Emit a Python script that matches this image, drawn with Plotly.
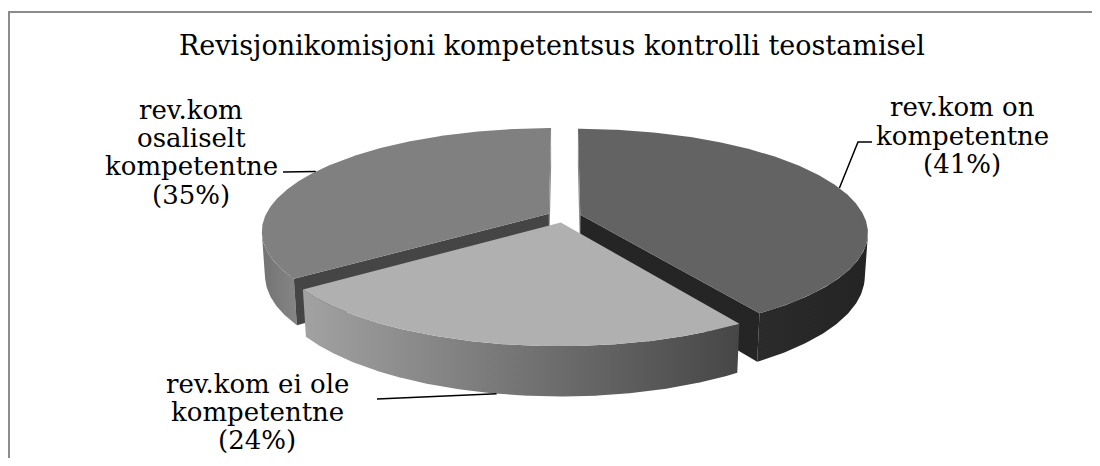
import numpy as np
import plotly.graph_objects as go

# ---------------- data ----------------
title_text = "Revisjonikomisjoni kompetentsus kontrolli teostamisel"
categories = ["rev.kom on kompetentne", "rev.kom ei ole kompetentne", "rev.kom osaliselt kompetentne"]
values = [41, 24, 35]
label_lines = [
    ["rev.kom on", "kompetentne", "(41%)"],
    ["rev.kom ei ole", "kompetentne", "(24%)"],
    ["rev.kom", "osaliselt", "kompetentne", "(35%)"],
]

# ---------------- style / layout ----------------
PAGE_OFF = 8          # default body margin of the html page
FW, FH = 1084, 450    # figure size (fits the 1100x466 window without scrollbars)
FONT = "DejaVu Serif"
top_colors = ["#636363", "#b0b0b0", "#808080"]
wall_colors = [("#2b2b2b", "#242424"), ("#a2a2a2", "#464646"), ("#737373", "#858585")]
cut_colors = [("#8e8e8e", "#252525"), ("#555555", "#555555"), ("#454545", "#8a8a8a")]

# pseudo-3D camera (screen pixel space)
CX, CY = 564.0, 216.5
FOCAL = 1590.0
DIST = 5.6
ELEV = np.radians(20.8)
THICK = 0.163
EXPLODE = 0.06
s_el, c_el = np.sin(ELEV), np.cos(ELEV)
CAM = np.array([0.0, -DIST * c_el, DIST * s_el])

# label placement (screen pixel space)
label_x = [962, 257, 191]
label_y = [[107, 136, 164], [384, 412, 440], [110, 138, 166, 195]]
leader_tail = [[(858, 142), (872, 142)], [(377, 399)], [(283, 172)]]
leader_z = [0.0, -THICK, 0.0]
frame_x = [9, 9, 1200]
frame_y = [600, 12, 12]


def project(X, Y, Z):
    X, Y, Z = np.asarray(X, float), np.asarray(Y, float), np.asarray(Z, float)
    yc = Y * s_el + Z * c_el
    zc = Y * c_el - Z * s_el + DIST
    return CX + FOCAL * X / zc, CY - FOCAL * yc / zc


def poly_trace(xs, ys, color=None, gradient=None):
    xs = list(xs) + [xs[0]]
    ys = list(ys) + [ys[0]]
    kw = dict(x=xs, y=ys, mode="lines", fill="toself", line=dict(width=0),
              hoverinfo="skip", showlegend=False)
    if gradient:
        kw["fillgradient"] = dict(type="horizontal",
                                  colorscale=[[0, gradient[0]], [1, gradient[1]]])
        kw["fillcolor"] = gradient[0]
    else:
        kw["fillcolor"] = color
    return go.Scatter(**kw)


total = float(sum(values))
bounds = np.concatenate([[0.0], np.cumsum(values) / total * 360.0])

slices = []
for i, v in enumerate(values):
    t0, t1 = bounds[i], bounds[i + 1]
    mid = np.radians((t0 + t1) / 2)
    off = np.array([EXPLODE * np.sin(mid), EXPLODE * np.cos(mid)])
    slices.append(dict(i=i, t0=t0, t1=t1, mid=mid, off=off))

# back-to-front drawing order
order = sorted(slices, key=lambda d: -np.cos(d["mid"]))

fig = go.Figure()

# chart frame (top & left edges visible)
fig.add_trace(go.Scatter(x=frame_x, y=frame_y, mode="lines",
                         line=dict(color="#8c8c8c", width=2),
                         hoverinfo="skip", showlegend=False))

for sl in order:
    i, t0, t1, off = sl["i"], sl["t0"], sl["t1"], sl["off"]
    th = np.radians(np.linspace(t0, t1, 240))
    rx, ry = off[0] + np.sin(th), off[1] + np.cos(th)

    # outer wall (front-facing part)
    vis = []
    for k in range(len(th)):
        n = np.array([np.sin(th[k]), np.cos(th[k]), 0.0])
        p = np.array([rx[k], ry[k], 0.0])
        vis.append(np.dot(n, CAM - p) > 0)
    vis = np.array(vis)
    if vis.sum() >= 2:
        xt, yt = project(rx[vis], ry[vis], 0.0)
        xb, yb = project(rx[vis], ry[vis], -THICK)
        fig.add_trace(poly_trace(np.concatenate([xt, xb[::-1]]),
                                 np.concatenate([yt, yb[::-1]]),
                                 gradient=wall_colors[i]))

    # radial cut faces
    for j, (ang, nd) in enumerate([(t0, t0 - 90), (t1, t1 + 90)]):
        a = np.radians(ang)
        nn = np.array([np.sin(np.radians(nd)), np.cos(np.radians(nd)), 0.0])
        p = np.array([off[0], off[1], 0.0])
        if np.dot(nn, CAM - p) <= 0:
            continue
        ex, ey = off[0] + np.sin(a), off[1] + np.cos(a)
        qx = [off[0], ex, ex, off[0]]
        qy = [off[1], ey, ey, off[1]]
        qz = [0.0, 0.0, -THICK, -THICK]
        px, py = project(qx, qy, qz)
        fig.add_trace(poly_trace(px, py, color=cut_colors[i][j]))

    # top face
    xt, yt = project(np.concatenate([[off[0]], rx]), np.concatenate([[off[1]], ry]), 0.0)
    fig.add_trace(poly_trace(xt, yt, color=top_colors[i]))

# leader lines (anchored on slice rim at mid-angle)
for sl in slices:
    i, off, mid = sl["i"], sl["off"], sl["mid"]
    ax, ay = project(off[0] + np.sin(mid), off[1] + np.cos(mid), leader_z[i])
    pts = [(float(ax), float(ay))] + leader_tail[i]
    fig.add_trace(go.Scatter(x=[p[0] for p in pts], y=[p[1] for p in pts], mode="lines",
                             line=dict(color="black", width=1.5), hoverinfo="skip",
                             showlegend=False))

# labels
for i, lines in enumerate(label_lines):
    for ln, yy in zip(lines, label_y[i]):
        fig.add_annotation(x=label_x[i], y=yy, xref="x", yref="y", text=ln, showarrow=False,
                           xanchor="center", yanchor="middle",
                           font=dict(family=FONT, size=26, color="black"))

fig.update_layout(
    width=FW, height=FH, autosize=False,
    margin=dict(l=0, r=0, t=0, b=0),
    paper_bgcolor="white", plot_bgcolor="white",
    title=dict(text=title_text, x=(552 - PAGE_OFF) / FW, xanchor="center",
               y=1 - (46 - PAGE_OFF) / FH, yanchor="middle", yref="container",
               font=dict(family=FONT, size=27, color="black")),
    xaxis=dict(range=[PAGE_OFF, PAGE_OFF + FW], visible=False, fixedrange=True),
    yaxis=dict(range=[PAGE_OFF + FH, PAGE_OFF], visible=False, fixedrange=True),
    showlegend=False,
)

fig.write_html("out.html")
